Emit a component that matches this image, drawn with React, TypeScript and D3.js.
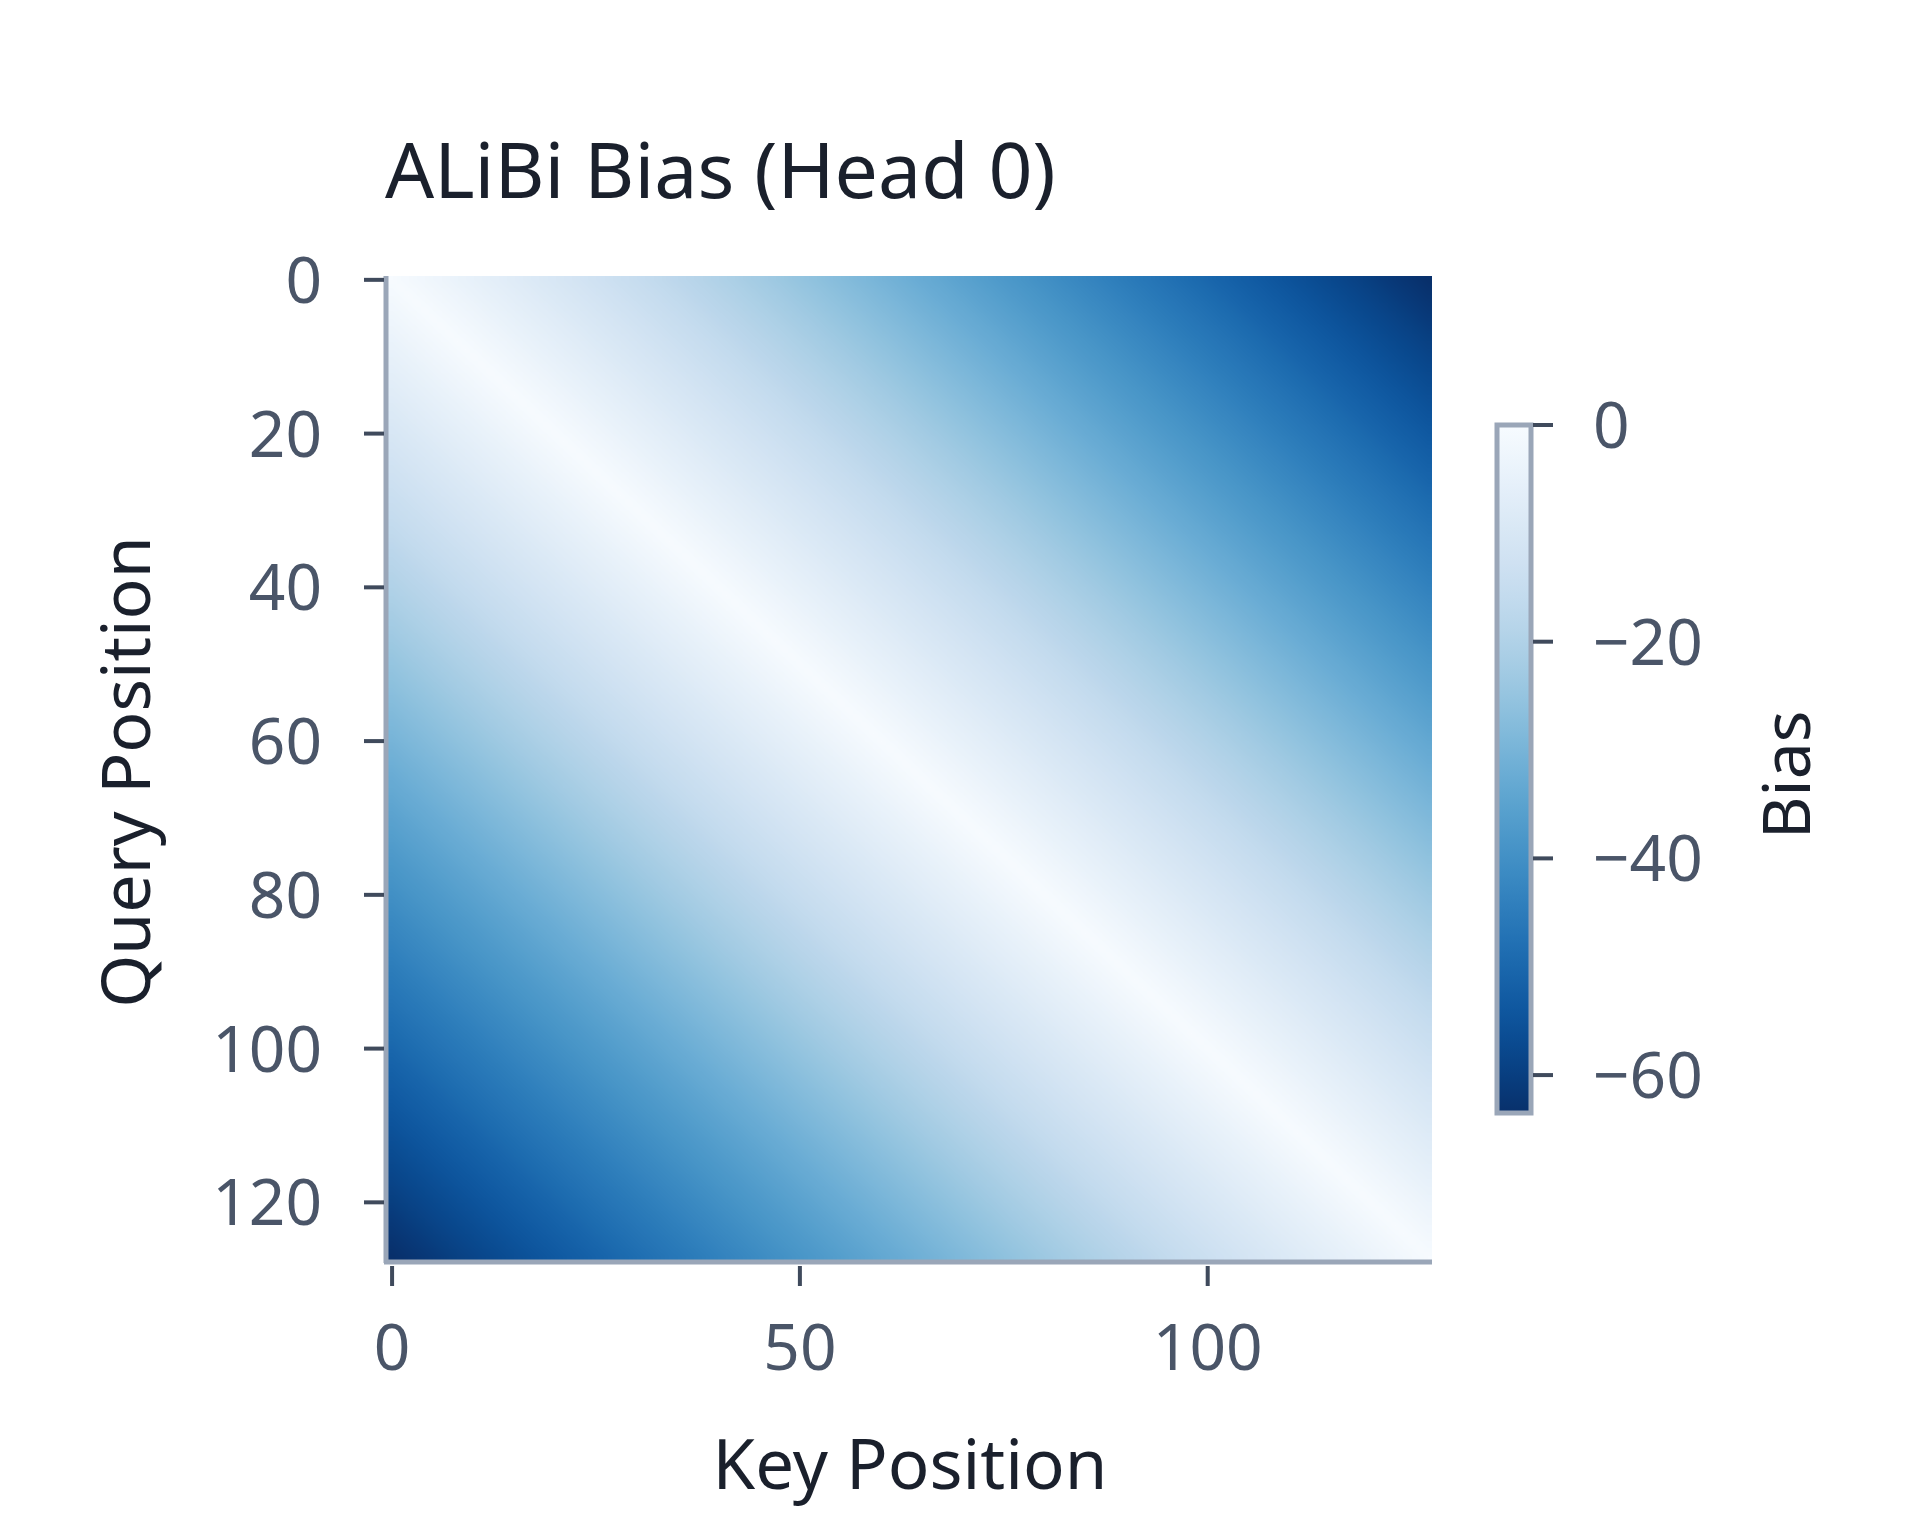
import { useMemo } from 'react';
import * as d3 from 'd3';

// ALiBi head 0: bias = -slope * |query - key| over a 128-token window
const nPositions = 128;
const headSlope = 0.5;
const biasMin = -63.5;
const biasMax = 0;

const xTicks = [0, 50, 100];
const yTicks = [0, 20, 40, 60, 80, 100, 120];
const cbarTicks = [0, -20, -40, -60];

const title = 'ALiBi Bias (Head 0)';
const xLabel = 'Key Position';
const yLabel = 'Query Position';
const cbarLabel = 'Bias';

const W = 1920;
const H = 1536;
const FONT = '"Noto Sans", "Open Sans", sans-serif';

export default function App() {
    const plotLeft = 388;
    const plotRight = 1432;
    const plotTop = 276;
    const plotBottom = 1260;

    const cbLeft = 1497;
    const cbRight = 1531;
    const cbTop = 425;
    const cbBottom = 1113;

    const positions = useMemo(() => d3.range(nPositions), []);

    const color = useMemo(
        () => d3.scaleSequential(d3.interpolateBlues).domain([biasMax, biasMin]),
        []
    );

    const xScale = d3.scaleBand<number>().domain(positions).range([plotLeft, plotRight]);
    const yScale = d3.scaleBand<number>().domain(positions).range([plotTop, plotBottom]);
    const cbScale = d3.scaleLinear().domain([biasMax, biasMin]).range([cbTop, cbBottom]);

    // paint the matrix into a small canvas, let the browser smooth it when scaled
    const imgHref = useMemo(() => {
        const canvas = document.createElement('canvas');
        canvas.width = nPositions;
        canvas.height = nPositions;
        const ctx = canvas.getContext('2d');
        if (!ctx) return '';
        const img = ctx.createImageData(nPositions, nPositions);
        positions.forEach((q) => {
            positions.forEach((k) => {
                const bias = -headSlope * Math.abs(q - k);
                const c = d3.rgb(color(bias));
                const i = (q * nPositions + k) * 4;
                img.data[i] = c.r;
                img.data[i + 1] = c.g;
                img.data[i + 2] = c.b;
                img.data[i + 3] = 255;
            });
        });
        ctx.putImageData(img, 0, 0);
        return canvas.toDataURL();
    }, [positions, color]);

    const gradStops = d3.range(0, 1.0001, 0.05).map((t) => ({
        offset: t,
        color: color(biasMax + (biasMin - biasMax) * t),
    }));

    const half = xScale.bandwidth() / 2;
    const halfY = yScale.bandwidth() / 2;

    return (
        <svg width={W} height={H} style={{ position: 'absolute', left: 0, top: 0, background: '#fff' }}>
            <defs>
                <linearGradient id="cbar" x1="0" y1="0" x2="0" y2="1">
                    {gradStops.map((s) => (
                        <stop key={s.offset} offset={s.offset} stopColor={s.color} />
                    ))}
                </linearGradient>
            </defs>

            {/* title */}
            <text x={plotLeft - 3} y={198} fontFamily={FONT} fontSize={77} fill="#1a202c">
                {title}
            </text>

            {/* heatmap */}
            <image
                href={imgHref}
                x={plotLeft}
                y={plotTop}
                width={plotRight - plotLeft}
                height={plotBottom - plotTop}
                preserveAspectRatio="none"
            />

            {/* spines */}
            <line x1={plotLeft - 2} x2={plotLeft - 2} y1={plotTop} y2={plotBottom + 3} stroke="#9aa6b8" strokeWidth={5} />
            <line x1={plotLeft - 4} x2={plotRight} y1={plotBottom + 2} y2={plotBottom + 2} stroke="#9aa6b8" strokeWidth={5} />

            {/* y axis */}
            <g>
                {yTicks.map((t) => {
                    const y = (yScale(t) ?? 0) + halfY;
                    return (
                        <g key={t}>
                            <line x1={364} x2={plotLeft - 4} y1={y} y2={y} stroke="#3f4a5c" strokeWidth={4} />
                            <text x={322} y={y} dy="0.36em" textAnchor="end" fontFamily={FONT} fontSize={64} fill="#4a5568">
                                {t}
                            </text>
                        </g>
                    );
                })}
            </g>

            {/* x axis */}
            <g>
                {xTicks.map((t) => {
                    const x = (xScale(t) ?? 0) + half;
                    return (
                        <g key={t}>
                            <line x1={x} x2={x} y1={plotBottom + 6} y2={plotBottom + 26} stroke="#3f4a5c" strokeWidth={4} />
                            <text x={x} y={1370} textAnchor="middle" fontFamily={FONT} fontSize={64} fill="#4a5568">
                                {t}
                            </text>
                        </g>
                    );
                })}
            </g>

            {/* axis labels */}
            <text x={(plotLeft + plotRight) / 2} y={1489} textAnchor="middle" fontFamily={FONT} fontSize={69} fill="#1a202c">
                {xLabel}
            </text>
            <text
                transform={`translate(150, ${(plotTop + plotBottom) / 2 + 4}) rotate(-90)`}
                textAnchor="middle"
                fontFamily={FONT}
                fontSize={68}
                fill="#1a202c"
            >
                {yLabel}
            </text>

            {/* colorbar */}
            <rect x={cbLeft} y={cbTop} width={cbRight - cbLeft} height={cbBottom - cbTop} fill="url(#cbar)" stroke="#9aa6b8" strokeWidth={5} />
            {cbarTicks.map((t) => {
                const y = cbScale(t);
                return (
                    <g key={t}>
                        <line x1={cbRight + 2} x2={cbRight + 22} y1={y} y2={y} stroke="#3f4a5c" strokeWidth={4} />
                        <text x={1593} y={y} dy="0.36em" fontFamily={FONT} fontSize={64} fill="#4a5568">
                            {t < 0 ? `\u2212${Math.abs(t)}` : t}
                        </text>
                    </g>
                );
            })}
            <text
                transform={`translate(1810, ${(cbTop + cbBottom) / 2 + 6}) rotate(-90)`}
                textAnchor="middle"
                fontFamily={FONT}
                fontSize={66}
                fill="#1a202c"
            >
                {cbarLabel}
            </text>
        </svg>
    );
}
